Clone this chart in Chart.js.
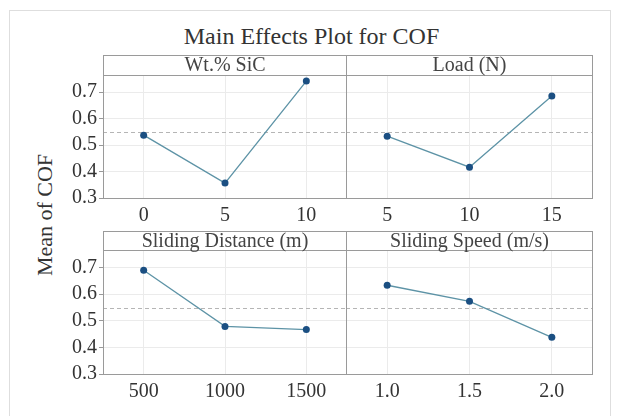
<!DOCTYPE html>
<html>
<head>
<meta charset="utf-8">
<script src="https://cdn.jsdelivr.net/npm/chart.js@4.4.1/dist/chart.umd.min.js"></script>
<style>
  html, body { margin: 0; padding: 0; background: #fff; overflow: hidden; }
  #page { position: relative; width: 619px; height: 416px; overflow: hidden; }
  #frame { position: absolute; left: 9px; top: 10px; width: 600px; height: 420px; border: 1px solid #dedede; }
  #title { position: absolute; left: 0; top: 22px; width: 623px; text-align: center;
           font: 24px "Liberation Serif", serif; color: #333; line-height: 28px; }
  #ytitle { position: absolute; left: 45px; top: 215px; white-space: nowrap;
            transform: translate(-50%, -50%) rotate(-90deg);
            font: 22px "Liberation Serif", serif; color: #333; }
  canvas { position: absolute; }
</style>
</head>
<body>
<div id="page">
  <div id="frame"></div>
  <div id="title">Main Effects Plot for COF</div>
  <div id="ytitle">Mean of COF</div>
  <canvas id="pSic" width="307" height="176" style="left:40px;top:55px"></canvas>
  <canvas id="pLoad" width="247" height="176" style="left:346px;top:55px"></canvas>
  <canvas id="pDist" width="307" height="176" style="left:40px;top:231px"></canvas>
  <canvas id="pSpeed" width="247" height="176" style="left:346px;top:231px"></canvas>
</div>
<script>
// factor levels and mean COF at each level
const sicLevels = [0, 5, 10];
const sicMeans = [0.538, 0.357, 0.742];
const loadLevels = [5, 10, 15];
const loadMeans = [0.534, 0.417, 0.686];
const distLevels = [500, 1000, 1500];
const distMeans = [0.689, 0.479, 0.467];
const speedLevels = [1.0, 1.5, 2.0];
const speedMeans = [0.633, 0.573, 0.438];
const speedTickLabels = ['1.0', '1.5', '2.0'];

const grandMean = 0.548;
const yTicks = [0.3, 0.4, 0.5, 0.6, 0.7];

Chart.defaults.font.family = '"Liberation Serif", serif';
Chart.defaults.color = '#333';

// strip header, dashed grand-mean line and panel frame
const panelDecor = {
    id: 'panelDecor',
    beforeDatasetsDraw(chart, args, opts) {
        const ctx = chart.ctx, a = chart.chartArea;
        const y = Math.round(chart.scales.y.getPixelForValue(opts.mean)) + 0.5;
        ctx.save();
        ctx.strokeStyle = '#b5b5b5';
        ctx.lineWidth = 1;
        ctx.setLineDash([4, 3]);
        ctx.beginPath();
        ctx.moveTo(a.left, y);
        ctx.lineTo(a.right, y);
        ctx.stroke();
        ctx.restore();
    },
    afterDraw(chart, args, opts) {
        const ctx = chart.ctx, a = chart.chartArea;
        ctx.save();
        ctx.strokeStyle = '#9a9a9a';
        ctx.lineWidth = 1;
        ctx.strokeRect(a.left + 0.5, a.top + 0.5, a.width - 1, a.height - 1);
        ctx.strokeRect(a.left + 0.5, 0.5, a.width - 1, a.top);
        ctx.fillStyle = '#444';
        ctx.font = '20px "Liberation Serif", serif';
        ctx.textAlign = 'center';
        ctx.textBaseline = 'middle';
        ctx.fillText(opts.label, (a.left + a.right) / 2, a.top / 2 + 1);
        ctx.restore();
    }
};

function drawPanel(id, label, levels, means, xMin, xMax, tickLabels, showY, stripH) {
    new Chart(document.getElementById(id), {
        type: 'scatter',
        data: {
            datasets: [{
                data: levels.map((v, i) => ({ x: v, y: means[i] })),
                showLine: true,
                borderColor: '#5d93a6',
                borderWidth: 1.3,
                pointRadius: 3.5,
                pointBackgroundColor: '#1b4f82',
                pointBorderColor: '#1b4f82',
                pointBorderWidth: 0
            }]
        },
        options: {
            responsive: false,
            animation: false,
            layout: { autoPadding: false, padding: { top: stripH, left: 0, right: 0, bottom: 0 } },
            plugins: {
                legend: { display: false },
                tooltip: { enabled: false },
                panelDecor: { label: label, mean: grandMean }
            },
            scales: {
                x: {
                    type: 'linear',
                    min: xMin,
                    max: xMax,
                    border: { display: false },
                    grid: { color: '#ebebeb', drawTicks: false },
                    ticks: {
                        padding: 5,
                        font: { size: 20 },
                        callback: (v, i) => tickLabels[i]
                    },
                    afterBuildTicks: s => { s.ticks = levels.map(v => ({ value: v })); },
                    afterFit: s => { s.height = 32; s.paddingLeft = 0; s.paddingRight = 0; }
                },
                y: {
                    min: 0.297,
                    max: 0.765,
                    border: { display: false },
                    grid: { color: '#ebebeb', drawTicks: showY, tickLength: 4, tickColor: '#999' },
                    ticks: {
                        display: showY,
                        padding: 2,
                        font: { size: 20 },
                        callback: v => v.toFixed(1)
                    },
                    afterBuildTicks: s => { s.ticks = yTicks.map(v => ({ value: v })); },
                    afterFit: s => { s.width = showY ? 63 : 0; s.paddingTop = 0; s.paddingBottom = 0; }
                }
            }
        },
        plugins: [panelDecor]
    });
}

drawPanel('pSic', 'Wt.% SiC', sicLevels, sicMeans, -2.5, 12.5, sicLevels.map(String), true, 20);
drawPanel('pLoad', 'Load (N)', loadLevels, loadMeans, 2.5, 17.5, loadLevels.map(String), false, 20);
drawPanel('pDist', 'Sliding Distance (m)', distLevels, distMeans, 250, 1750, distLevels.map(String), true, 19);
drawPanel('pSpeed', 'Sliding Speed (m/s)', speedLevels, speedMeans, 0.75, 2.25, speedTickLabels, false, 19);
</script>
</body>
</html>
